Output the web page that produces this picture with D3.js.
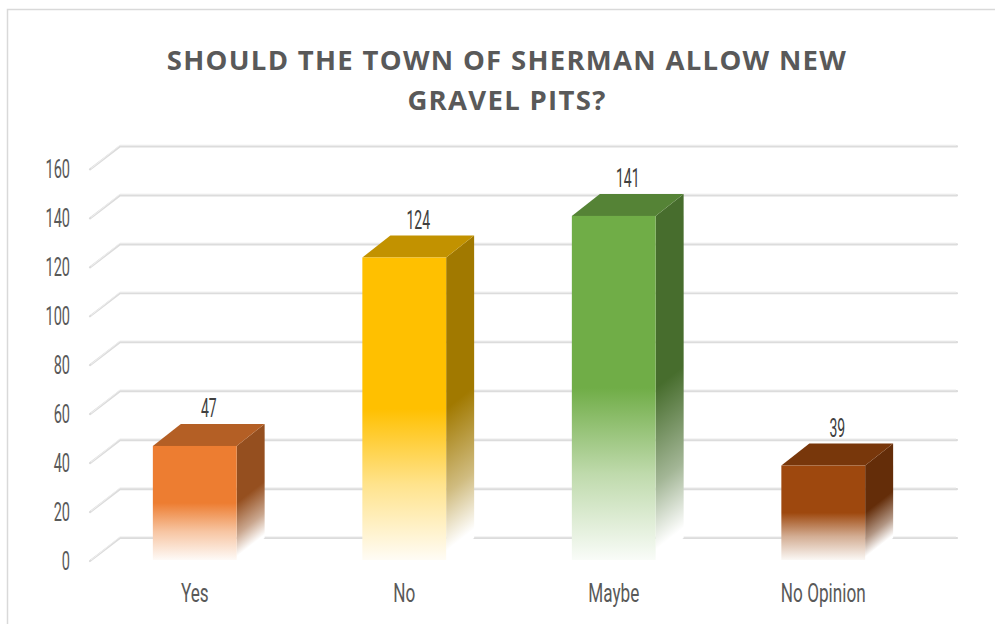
<!DOCTYPE html>
<html>
<head>
<meta charset="utf-8">
<script src="https://cdn.jsdelivr.net/npm/d3@7"></script>
<style>
  html, body { margin: 0; padding: 0; background: #fff; }
  svg { display: block; }
</style>
</head>
<body>
<svg id="chart" width="995" height="624"></svg>
<script>
const categories = ["Yes", "No", "Maybe", "No Opinion"];
const values = [47, 124, 141, 39];
const barColors = ["#ED7D31", "#FFC000", "#70AD47", "#9E480E"];
const yTicks = [0, 20, 40, 60, 80, 100, 120, 140, 160];
const titleLines = ["SHOULD THE TOWN OF SHERMAN ALLOW NEW", "GRAVEL PITS?"];

const svg = d3.select("#chart");
const W = 995, H = 624;
const FONT = "Roboto, 'DejaVu Sans', sans-serif";
const textCol = "#595959";
const SX = 0.56; // horizontal squeeze to mimic condensed font

// chart border
svg.append("rect").attr("x", 7.5).attr("y", 9.5).attr("width", W + 10).attr("height", H + 10)
  .attr("fill", "#fff").attr("stroke", "#d9d9d9").attr("stroke-width", 1.5);

// title
svg.append("g").selectAll("text").data(titleLines).join("text")
  .attr("x", 507).attr("y", (d, i) => 70 + i * 40)
  .attr("text-anchor", "middle")
  .attr("font-family", "'Open Sans', sans-serif")
  .attr("font-weight", 700)
  .attr("font-size", 27.5)
  .attr("letter-spacing", 1.3)
  .attr("fill", textCol)
  .text(d => d);

// scales (front plane)
const x = d3.scaleBand().domain(categories).range([90, 928]).paddingInner(0.6).paddingOuter(0.3);
const y = d3.scaleLinear().domain([0, 160]).range([561, 169.4]);
const wallDX = 30, wallDY = -23;   // depth of back wall
const barDX = 28, barDY = -22;     // depth of bars

// gridlines
const grid = svg.append("g");
yTicks.forEach(v => {
  const yf = y(v), yb = y(v) + wallDY;
  grid.append("path")
    .attr("d", `M90,${yf}L${90 + wallDX},${yb}L957,${yb}`)
    .attr("fill", "none").attr("stroke", "#dcdcdc").attr("stroke-width", 2.2)
    .attr("stroke-linecap", "round").attr("stroke-linejoin", "round");
  grid.append("path")
    .attr("d", `M91,${yf - 1}L${90 + wallDX},${yb - 1.2}L956,${yb - 1.2}`)
    .attr("fill", "none").attr("stroke", "#efefef").attr("stroke-width", 1);
});

// y axis labels
svg.append("g").selectAll("text").data(yTicks).join("text")
  .attr("transform", d => `translate(70,${y(d) + 9}) scale(${SX},1)`)
  .attr("text-anchor", "end")
  .attr("font-family", FONT).attr("font-size", 26).attr("fill", textCol)
  .text(d => d);

// gradients
const defs = svg.append("defs");
function shade(c, k) {
  const r = d3.rgb(c);
  return d3.rgb(r.r * k, r.g * k, r.b * k).formatHex();
}
function mixWhite(c, t) {
  return d3.interpolateRgb(c, "#ffffff")(t);
}

const bars = svg.append("g");
categories.forEach((cat, i) => {
  const v = values[i];
  const col = barColors[i];
  const x0 = x(cat), bw = x.bandwidth(), x1 = x0 + bw;
  const yTop = y(v), yBot = y(0) - 1;
  const h = yBot - yTop;
  const topCol = shade(col, 0.76), sideCol = shade(col, 0.63);

  // front gradient
  const fg = defs.append("linearGradient").attr("id", "fg" + i)
    .attr("gradientUnits", "userSpaceOnUse")
    .attr("x1", 0).attr("y1", yTop).attr("x2", 0).attr("y2", yBot);
  fg.append("stop").attr("offset", 0).attr("stop-color", col);
  fg.append("stop").attr("offset", 0.5).attr("stop-color", col);
  fg.append("stop").attr("offset", 0.75).attr("stop-color", mixWhite(col, 0.55));
  fg.append("stop").attr("offset", 1).attr("stop-color", mixWhite(col, 0.96));

  // side gradient: iso-lines parallel to depth direction
  const s = 28 * h / (22 * 22 + 28 * 28);
  const sg = defs.append("linearGradient").attr("id", "sg" + i)
    .attr("gradientUnits", "userSpaceOnUse")
    .attr("x1", x1).attr("y1", yTop).attr("x2", x1 + s * 22).attr("y2", yTop + s * 28);
  sg.append("stop").attr("offset", 0).attr("stop-color", sideCol);
  sg.append("stop").attr("offset", 0.5).attr("stop-color", sideCol);
  sg.append("stop").attr("offset", 0.78).attr("stop-color", mixWhite(sideCol, 0.5));
  sg.append("stop").attr("offset", 0.97).attr("stop-color", "#ffffff");

  // side face
  bars.append("path")
    .attr("d", `M${x1},${yTop}L${x1 + barDX},${yTop + barDY}L${x1 + barDX},${yBot + barDY}L${x1},${yBot}Z`)
    .attr("fill", `url(#sg${i})`);
  // top face
  bars.append("path")
    .attr("d", `M${x0},${yTop}L${x0 + barDX},${yTop + barDY}L${x1 + barDX},${yTop + barDY}L${x1},${yTop}Z`)
    .attr("fill", topCol);
  // front face
  bars.append("rect")
    .attr("x", x0).attr("y", yTop).attr("width", bw).attr("height", h)
    .attr("fill", `url(#fg${i})`);

  // value label
  bars.append("text")
    .attr("transform", `translate(${x0 + bw / 2 + barDX / 2},${yTop + barDY - 7}) scale(${SX},1)`)
    .attr("text-anchor", "middle")
    .attr("font-family", FONT).attr("font-size", 25).attr("fill", "#404040")
    .text(v);
});

// x axis labels
svg.append("g").selectAll("text").data(categories).join("text")
  .attr("transform", d => `translate(${x(d) + x.bandwidth() / 2},${602}) scale(0.66,1)`)
  .attr("text-anchor", "middle")
  .attr("font-family", FONT).attr("font-size", 26).attr("fill", textCol)
  .text(d => d);
</script>
</body>
</html>
